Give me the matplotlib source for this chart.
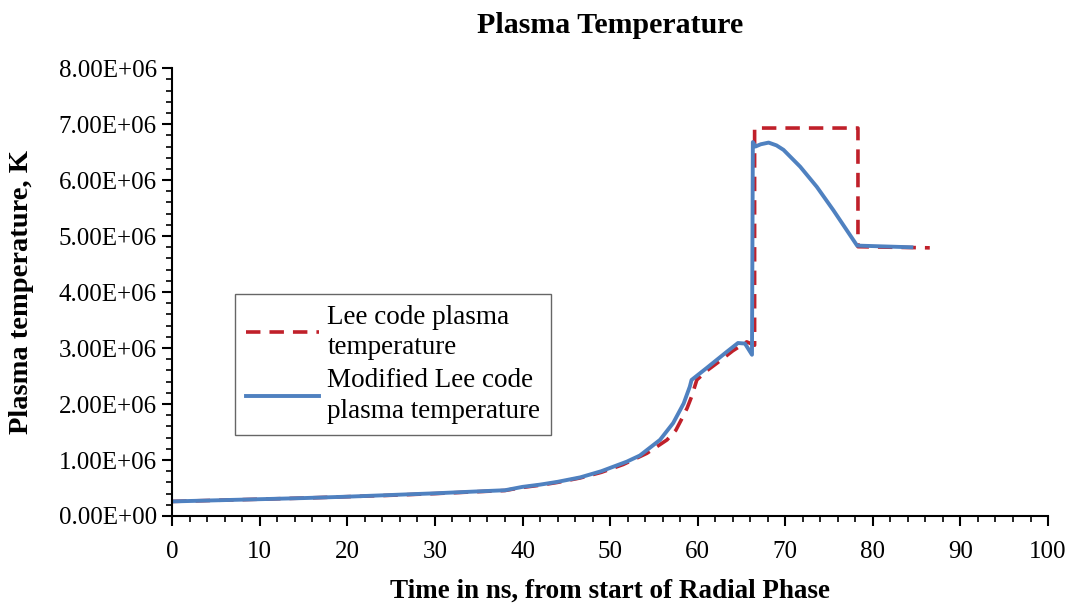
import matplotlib
matplotlib.use("Agg")
import matplotlib.pyplot as plt
from matplotlib.ticker import MultipleLocator, FuncFormatter

# Data (temperature in K, time in ns)
lee_t = [0, 5, 10, 15, 20, 25, 30, 35, 38, 40, 42, 44, 46.6, 49, 51.5, 54.2,
         56.5, 57.5, 58.2, 58.8, 59.3, 59.9, 61.0, 62.2, 64.0, 65.6, 66.5, 66.5,
         78.3, 78.3, 86.5]
lee_T = [0.26e6, 0.28e6, 0.30e6, 0.32e6, 0.345e6, 0.37e6, 0.40e6, 0.435e6, 0.455e6,
         0.51e6, 0.55e6, 0.60e6, 0.68e6, 0.78e6, 0.92e6, 1.12e6,
         1.36e6, 1.53e6, 1.74e6, 1.93e6, 2.13e6, 2.43e6, 2.59e6, 2.73e6, 2.95e6, 3.11e6,
         3.05e6, 6.93e6, 6.93e6, 4.81e6, 4.79e6]

mod_t = [0, 5, 10, 15, 20, 25, 30, 35, 38, 40, 42, 44, 46.6, 49, 51.9, 53.4,
         55.7, 57.2, 58.4, 59.1, 59.3, 61.0, 63.3, 64.6, 65.4, 66.2,
         66.3, 66.6, 67.2, 68.1, 69.0, 69.8, 71.7, 73.6, 75.5, 77.0, 78.2, 84.4]
mod_T = [0.26e6, 0.28e6, 0.30e6, 0.32e6, 0.345e6, 0.375e6, 0.405e6, 0.44e6, 0.46e6,
         0.52e6, 0.56e6, 0.61e6, 0.69e6, 0.80e6, 0.97e6, 1.08e6,
         1.36e6, 1.66e6, 2.01e6, 2.31e6, 2.43e6, 2.64e6, 2.93e6, 3.09e6, 3.08e6, 2.88e6,
         6.68e6, 6.60e6, 6.64e6, 6.67e6, 6.62e6, 6.54e6, 6.24e6, 5.88e6, 5.46e6, 5.11e6,
         4.83e6, 4.80e6]

title = "Plasma Temperature"
xlabel = "Time in ns, from start of Radial Phase"
ylabel = "Plasma temperature, K"
lee_label = "Lee code plasma\ntemperature"
mod_label = "Modified Lee code\nplasma temperature"

plt.rcParams['font.family'] = ['Liberation Serif', 'DejaVu Serif']

fig = plt.figure(figsize=(10.76, 6.03), dpi=100)
ax = fig.add_axes([0.16, 0.1443, 0.814, 0.7427])

ax.plot(lee_t, lee_T, color='#C0202A', lw=2.6, ls=(0, (4.0, 2.5)), label=lee_label)
ax.plot(mod_t, mod_T, color='#4F81C0', lw=2.8, label=mod_label)

ax.set_xlim(0, 100)
ax.set_ylim(0, 8e6)
ax.xaxis.set_major_locator(MultipleLocator(10))
ax.xaxis.set_minor_locator(MultipleLocator(2))
ax.yaxis.set_major_locator(MultipleLocator(1e6))
ax.yaxis.set_minor_locator(MultipleLocator(2e5))
ax.yaxis.set_major_formatter(FuncFormatter(lambda v, p: "%.2fE+%02d" % (v / 1e6 if v else 0, 6 if v else 0)))

for s in ['top', 'right']:
    ax.spines[s].set_visible(False)
for s in ['left', 'bottom']:
    ax.spines[s].set_linewidth(1.5)
ax.tick_params(which='major', length=7, width=1.5, labelsize=18, direction='out')
ax.tick_params(which='minor', length=4, width=1.2, direction='out')
ax.tick_params(axis='x', pad=11)
ax.tick_params(axis='y', pad=4)

ax.set_title(title, fontsize=21.5, fontweight='bold', pad=25)
ax.set_xlabel(xlabel, fontsize=19.5, fontweight='bold', labelpad=11)
ax.set_ylabel(ylabel, fontsize=20.5, fontweight='bold', labelpad=18)

leg = ax.legend(loc='lower left', bbox_to_anchor=(0.072, 0.181), fontsize=19.5,
                frameon=True, fancybox=False, edgecolor='#404040', handlelength=2.7,
                borderpad=0.4, labelspacing=0.3, handletextpad=0.3,
                borderaxespad=0)
for t in leg.get_texts():
    t.set_linespacing(1.3)
leg.get_frame().set_linewidth(1.0)

fig.savefig("out.png", dpi=100)
